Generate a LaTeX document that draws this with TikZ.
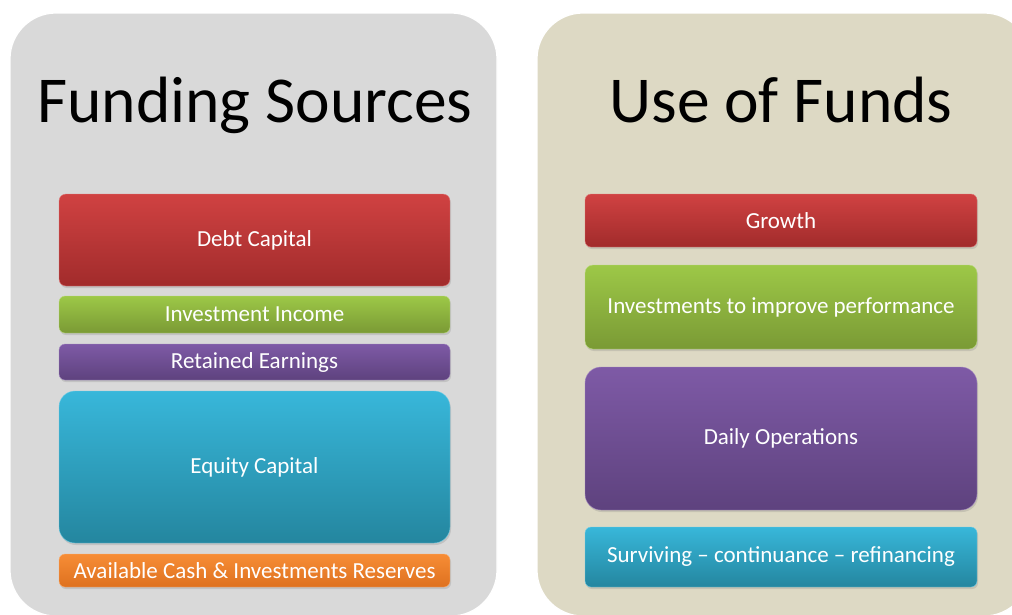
\documentclass[tikz,border=0pt]{standalone}
\usepackage{fontspec}
\setmainfont{Carlito}
\usetikzlibrary{shadows}

\definecolor{panelgray}{HTML}{D9D9D9}
\definecolor{paneltan}{HTML}{DDD9C4}
\definecolor{redtop}{HTML}{D04242}
\definecolor{redbot}{HTML}{A12B2B}
\definecolor{greentop}{HTML}{9DC847}
\definecolor{greenbot}{HTML}{7A9A35}
\definecolor{purpletop}{HTML}{7E5AA6}
\definecolor{purplebot}{HTML}{5E427E}
\definecolor{cyantop}{HTML}{38B7DA}
\definecolor{cyanbot}{HTML}{24869F}
\definecolor{orangetop}{HTML}{F78D36}
\definecolor{orangebot}{HTML}{DE711F}

\tikzset{
    panel/.style={rounded corners=46pt, draw=white, line width=1.2pt},
    title/.style={font=\fontsize{65.5}{78}\selectfont, anchor=base, text=black},
    fundbox/.style={rounded corners=#1, inner sep=0pt, text=white,
        font=\fontsize{23}{26}\selectfont,
        drop shadow={opacity=0.25, shadow xshift=1pt, shadow yshift=-2pt}},
    fundbox/.default=6pt,
    redbox/.style={top color=redtop, bottom color=redbot, draw=redtop!70!white},
    greenbox/.style={top color=greentop, bottom color=greenbot, draw=greentop!70!white},
    purplebox/.style={top color=purpletop, bottom color=purplebot, draw=purpletop!70!white},
    cyanbox/.style={top color=cyantop, bottom color=cyanbot, draw=cyantop!70!white},
    orangebox/.style={top color=orangetop, bottom color=orangebot, draw=orangetop!70!white},
}

\begin{document}
\begin{tikzpicture}[x=1pt, y=-1pt]
    \useasboundingbox (0,0) rectangle (1012,614);
    \clip (0,0) rectangle (1012,614);

    % Panels
    \fill[white] (0,0) rectangle (1012,614);
    \filldraw[panel, fill=panelgray] (10,13) rectangle (497,616);
    \filldraw[panel, fill=paneltan] (537,13) rectangle (1030,616);

    % Titles
    \node[title] (fundtitle) at (255,122) {Funding Sources};
    \node[title] (usetitle) at (781,122) {Use of Funds};

    % Funding sources
    \node[fundbox=7pt, redbox, minimum width=391pt, minimum height=92pt] (debt) at (254.5,240) {Debt Capital};
    \node[fundbox, greenbox, minimum width=391pt, minimum height=37pt] (income) at (254.5,314.5) {Investment Income};
    \node[fundbox, purplebox, minimum width=391pt, minimum height=36pt] (retained) at (254.5,362) {Retained Earnings};
    \node[fundbox=16pt, cyanbox, minimum width=391pt, minimum height=152pt] (equity) at (254.5,467) {Equity Capital};
    \node[fundbox, orangebox, minimum width=391pt, minimum height=33pt] (cash) at (254.5,570.5) {Available Cash \& Investments Reserves};

    % Use of funds
    \node[fundbox, redbox, minimum width=392pt, minimum height=53pt] (growth) at (781,220.5) {Growth};
    \node[fundbox=8pt, greenbox, minimum width=392pt, minimum height=84pt] (improve) at (781,307) {Investments to improve performance};
    \node[fundbox=16pt, purplebox, minimum width=392pt, minimum height=143pt] (daily) at (781,438.5) {Daily Operations};
    \node[fundbox, cyanbox, minimum width=392pt, minimum height=60pt] (surviving) at (781,557) {Surviving \textendash{} continuance \textendash{} refinancing};
\end{tikzpicture}
\end{document}
